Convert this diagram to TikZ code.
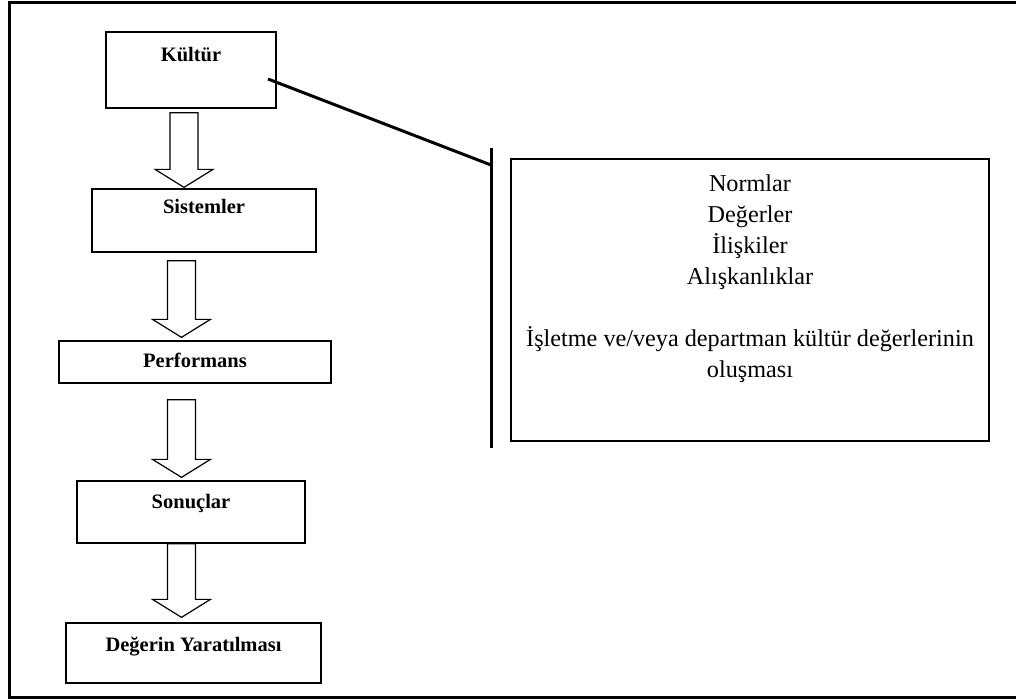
\documentclass[tikz,border=0pt]{standalone}
\usepackage{fontspec}
\setmainfont{Liberation Serif}
\usetikzlibrary{calc}

\tikzset{
  box/.style={draw=black, line width=1.3pt, inner sep=0pt, fill=none},
  stagelabel/.style={font=\fontsize{20.5}{24}\selectfont\bfseries, inner sep=0pt},
  blockarrow/.style={draw=black, line width=1.2pt, line join=miter, fill=white},
  frame/.style={draw=black, line width=3.5pt},
  link/.style={draw=black, line width=3pt},
}

% stage box: name, top y, bottom y, left x, right x, label offset, label
\newcommand\stagebox[7]{%
  \node[box, minimum width=#5-#4, minimum height=#3-#2] (#1)
    at ({(#4+#5)/2},{(#2+#3)/2}) {};
  \node[stagelabel] (#1-text) at ($(#1.north)+(0,#6)$) {#7};
}

% hollow down arrow: from node, to node, centre x, top gap, tip gap
\newcommand\flowarrow[5]{%
  \path (#3,0) coordinate (ax);
  \path (ax |- #1.south) coordinate (s) (ax |- #2.north) coordinate (t);
  \draw[blockarrow]
    ($(s)+(-14,#4)$) -- ($(t)+(-14,-18-#5)$) -- ($(t)+(-29,-18-#5)$)
    -- ($(t)+(0,-#5)$) -- ($(t)+(29,-18-#5)$) -- ($(t)+(14,-18-#5)$)
    -- ($(s)+(14,#4)$) -- cycle;
}

\begin{document}
\begin{tikzpicture}[x=1pt, y=-1pt]
  \useasboundingbox (0,0) rectangle (1016,699);
  \fill[white] (0,0) rectangle (1016,699);

  % outer frame (its right side lies beyond the page)
  \draw[frame] (1030,2.5) -- (9.5,2.5) -- (9.5,697.5) -- (1030,697.5);

  % stages
  \stagebox{kultur}{32}{108}{106}{276}{23}{Kültür}
  \stagebox{sistem}{189}{252}{92}{316}{18}{Sistemler}
  \stagebox{perf}{341}{383}{59}{331}{20}{Performans}
  \stagebox{sonuc}{481}{543}{77}{305}{23}{Sonuçlar}
  \stagebox{deger}{623}{683}{66}{321}{24}{Değerin Yaratılması}

  % arrows between stages
  \flowarrow{kultur}{sistem}{184}{4}{1}
  \flowarrow{sistem}{perf}{181.5}{8}{3}
  \flowarrow{perf}{sonuc}{181.5}{16}{3}
  \flowarrow{sonuc}{deger}{181.5}{0}{5}

  % description box
  \node[box, minimum width=478, minimum height=282] (desc) at (750,300) {};
  \node[anchor=north, align=center, inner sep=0pt,
        font=\fontsize{24.2}{31}\selectfont] (desc-text)
    at ($(desc.north)+(0,16)$)
    {Normlar\\Değerler\\İlişkiler\\Alışkanlıklar\\[31pt]%
     İşletme ve/veya departman kültür değerlerinin\\oluşması};

  % bracket linking culture to its description
  \coordinate (bartop) at (491,148);
  \coordinate (barbot) at (491,448);
  \coordinate (barjoin) at (491,165);
  \coordinate (kfoot) at (268,79);
  \draw[link] (bartop) -- (barbot);
  \draw[link] (kfoot) -- (barjoin);
\end{tikzpicture}
\end{document}
